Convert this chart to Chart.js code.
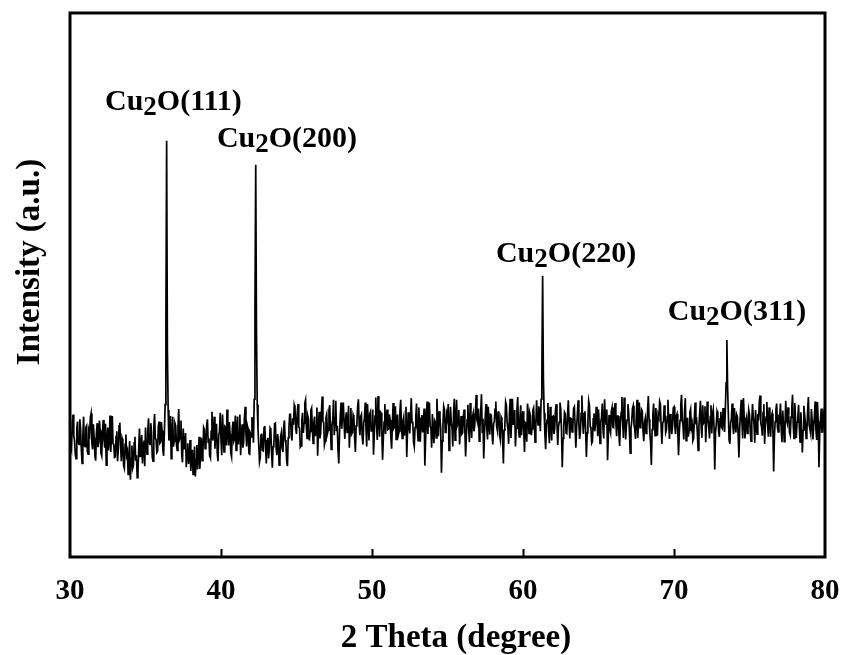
<!DOCTYPE html>
<html>
<head>
<meta charset="utf-8">
<script src="https://cdn.jsdelivr.net/npm/chart.js@4.4.0/dist/chart.umd.min.js"></script>
<style>
  body { margin: 0; background: #fff; }
  canvas { display: block; }
</style>
</head>
<body>
<canvas id="xrdChart" width="843" height="655"></canvas>
<script>
// XRD scan, 30-80 deg in 0.05 deg steps (one row per degree)
const startAngle = 30;
const angleStep = 0.05;
const intensity = [
  228, 201, 196, 247, 262, 223, 214, 189, 181, 236, 249, 210, 207, 253, 236, 198, 172, 221, 258, 205,
  203, 238, 241, 194, 189, 232, 226, 257, 264, 209, 198, 244, 219, 186, 177, 229, 246, 202, 211, 251,
  233, 191, 186, 228, 252, 217, 201, 245, 169, 212, 238, 196, 215, 260, 193, 224, 259, 208, 206, 183,
  184, 222, 231, 176, 199, 241, 247, 205, 176, 218, 212, 168, 163, 207, 225, 188, 194, 152, 178, 213,
  142, 181, 205, 163, 168, 210, 221, 177, 187, 146, 154, 198, 236, 185, 199, 224, 172, 209, 214, 167,
  238, 202, 189, 231, 255, 211, 207, 246, 228, 183, 176, 237, 263, 219, 215, 192, 194, 240, 249, 209,
  211, 248, 232, 197, 186, 229, 280, 420, 765, 380, 270, 214, 226, 259, 181, 224, 258, 203, 213, 246,
  241, 207, 196, 238, 272, 216, 220, 251, 188, 174, 236, 199, 203, 228, 165, 194, 209, 171, 182, 215,
  158, 186, 197, 152, 174, 203, 148, 179, 206, 161, 183, 221, 162, 196, 219, 177, 191, 238, 234, 199,
  207, 242, 253, 211, 218, 186, 182, 231, 267, 214, 226, 258, 199, 233, 245, 192, 176, 224, 231, 265,
  214, 187, 262, 224, 193, 240, 238, 205, 271, 229, 205, 248, 226, 191, 184, 236, 249, 213, 217, 260,
  196, 233, 258, 207, 229, 262, 187, 223, 244, 201, 211, 254, 276, 228, 203, 241, 235, 190, 189, 226,
  221, 257, 248, 210, 290, 460, 721, 410, 280, 236, 206, 175, 183, 224, 227, 196, 195, 238, 241, 203,
  172, 214, 219, 181, 198, 237, 234, 192, 164, 203, 207, 245, 246, 201, 187, 226, 213, 169, 178, 222,
  229, 201, 193, 238, 251, 215, 208, 176, 167, 219, 238, 262, 262, 224, 214, 255, 243, 279, 273, 236,
  226, 264, 281, 239, 237, 202, 204, 251, 265, 228, 246, 283, 289, 241, 218, 259, 253, 214, 231, 270,
  274, 236, 209, 247, 258, 222, 241, 275, 186, 232, 267, 218, 228, 264, 295, 249, 247, 206, 213, 256,
  262, 227, 233, 270, 279, 238, 198, 242, 251, 289, 224, 256, 287, 231, 241, 197, 172, 228, 259, 284,
  236, 263, 284, 247, 217, 252, 266, 229, 243, 278, 201, 239, 274, 226, 229, 261, 256, 219, 193, 241,
  248, 277, 290, 243, 224, 258, 262, 221, 207, 246, 255, 284, 238, 203, 281, 252, 214, 263, 267, 232,
  232, 271, 188, 226, 259, 293, 243, 215, 296, 254, 221, 267, 265, 230, 179, 218, 248, 281, 226, 259,
  271, 234, 235, 262, 252, 219, 199, 246, 283, 237, 240, 277, 216, 251, 262, 225, 231, 268, 289, 244,
  218, 249, 257, 223, 241, 276, 184, 229, 266, 240, 227, 259, 292, 247, 249, 211, 203, 238, 258, 282,
  239, 214, 275, 243, 212, 255, 261, 229, 244, 273, 168, 217, 253, 286, 226, 263, 284, 240, 237, 201,
  263, 232, 209, 251, 248, 219, 291, 254, 222, 268, 257, 236, 155, 213, 243, 277, 271, 229, 230, 262,
  254, 281, 196, 238, 276, 247, 238, 203, 263, 291, 215, 249, 289, 242, 247, 270, 207, 234, 259, 226,
  228, 259, 271, 233, 185, 224, 252, 280, 236, 211, 283, 248, 219, 257, 264, 231, 241, 267, 298, 252,
  246, 273, 213, 238, 267, 299, 229, 254, 181, 226, 258, 281, 240, 216, 276, 243, 225, 262, 261, 227,
  207, 245, 249, 272, 286, 241, 233, 266, 268, 223, 215, 257, 253, 218, 172, 233, 244, 285, 279, 246,
  236, 208, 262, 291, 219, 252, 291, 244, 248, 270, 203, 237, 271, 294, 238, 221, 257, 279, 224, 255,
  268, 231, 193, 247, 245, 212, 282, 259, 227, 265, 259, 224, 236, 270, 274, 248, 211, 239, 288, 256,
  243, 277, 265, 231, 290, 340, 517, 330, 265, 226, 198, 241, 252, 283, 231, 209, 276, 249, 214, 258,
  259, 226, 237, 270, 281, 245, 206, 239, 248, 284, 272, 233, 165, 218, 241, 266, 263, 228, 227, 259,
  288, 249, 218, 255, 254, 230, 239, 273, 276, 241, 201, 236, 262, 288, 245, 217, 230, 264, 297, 251,
  226, 263, 268, 232, 184, 228, 251, 287, 279, 240, 236, 209, 212, 254, 264, 231, 243, 276, 258, 222,
  271, 242, 209, 248, 256, 282, 233, 218, 290, 259, 244, 271, 178, 223, 261, 236, 229, 268, 275, 239,
  238, 270, 283, 247, 222, 259, 259, 226, 204, 245, 266, 294, 247, 219, 293, 258, 216, 242, 252, 281,
  264, 229, 191, 236, 249, 273, 278, 244, 235, 217, 257, 289, 219, 252, 284, 238, 242, 271, 268, 231,
  213, 248, 255, 227, 237, 269, 296, 253, 228, 211, 169, 234, 261, 282, 246, 223, 274, 241, 223, 262,
  257, 286, 281, 238, 208, 246, 249, 279, 266, 229, 234, 258, 289, 247, 217, 263, 253, 226, 240, 274,
  276, 243, 226, 259, 263, 231, 187, 229, 251, 280, 298, 254, 239, 216, 268, 292, 214, 247, 256, 221,
  233, 266, 272, 238, 245, 214, 218, 257, 284, 249, 252, 226, 196, 239, 264, 287, 237, 219, 279, 246,
  249, 277, 211, 243, 286, 255, 240, 218, 258, 279, 227, 263, 271, 237, 161, 229, 244, 268, 263, 232,
  221, 254, 267, 238, 236, 274, 252, 230, 270, 320, 399, 310, 262, 215, 208, 247, 253, 282, 241, 226,
  274, 245, 229, 262, 258, 223, 183, 236, 265, 289, 247, 218, 292, 256, 218, 249, 256, 227, 235, 270,
  262, 231, 213, 248, 281, 257, 244, 210, 270, 239, 226, 263, 251, 285, 297, 246, 239, 223, 266, 281,
  208, 243, 257, 285, 243, 221, 275, 248, 221, 259, 264, 236, 157, 222, 249, 271, 282, 238, 230, 262,
  255, 282, 236, 211, 269, 244, 212, 238, 287, 252, 246, 275, 260, 229, 224, 257, 273, 298, 241, 218,
  283, 254, 219, 248, 254, 280, 238, 211, 266, 241, 192, 233, 278, 262, 247, 218, 230, 269, 294, 243,
  243, 227, 272, 251, 216, 238, 259, 286, 234, 215, 285, 249, 165, 226, 251, 273, 228, 255, 263, 229,
  247
];

const xTicks = [30, 40, 50, 60, 70, 80];

// peak labels: [formula before subscript, subscript, rest]
const peakNames = [
  ['Cu', '2', 'O(111)'],
  ['Cu', '2', 'O(200)'],
  ['Cu', '2', 'O(220)'],
  ['Cu', '2', 'O(311)']
];
const peakLabelAngle = [36.85, 44.37, 62.85, 74.17];
const peakLabelLevel = [822, 754, 542, 436];

const xTitle = '2 Theta (degree)';
const yTitle = 'Intensity (a.u.)';

const serif = '"Liberation Serif", "Times New Roman", serif';

const points = intensity.map((v, i) => ({
  x: +(startAngle + i * angleStep).toFixed(2),
  y: v
}));

const framePlugin = {
  id: 'frame',
  afterDraw(chart) {
    const ctx = chart.ctx;
    const a = chart.chartArea;
    const xs = chart.scales.x;
    const ys = chart.scales.y;
    ctx.save();
    ctx.strokeStyle = '#000';
    // inner ticks on the bottom axis
    ctx.lineWidth = 2;
    xTicks.slice(1, -1).forEach(t => {
      const px = Math.round(xs.getPixelForValue(t)) + 0.5;
      ctx.beginPath();
      ctx.moveTo(px, a.bottom);
      ctx.lineTo(px, a.bottom - 8);
      ctx.stroke();
    });
    // box
    ctx.lineWidth = 3;
    ctx.strokeRect(a.left, a.top, a.right - a.left, a.bottom - a.top);

    // axis titles
    ctx.fillStyle = '#000';
    ctx.font = 'bold 33px ' + serif;
    ctx.textAlign = 'center';
    ctx.textBaseline = 'alphabetic';
    ctx.fillText(xTitle, 456, 647);
    ctx.translate(39, 262);
    ctx.rotate(-Math.PI / 2);
    ctx.fillText(yTitle, 0, 0);
    ctx.restore();

    // peak labels
    ctx.save();
    ctx.fillStyle = '#000';
    ctx.textBaseline = 'alphabetic';
    ctx.textAlign = 'left';
    peakNames.forEach((parts, i) => {
      const big = 'bold 30px ' + serif;
      const small = 'bold 27px ' + serif;
      ctx.font = big;
      const w1 = ctx.measureText(parts[0]).width;
      const w3 = ctx.measureText(parts[2]).width;
      ctx.font = small;
      const w2 = ctx.measureText(parts[1]).width;
      const cx = xs.getPixelForValue(peakLabelAngle[i]);
      const by = ys.getPixelForValue(peakLabelLevel[i]);
      let x = cx - (w1 + w2 + w3) / 2;
      ctx.font = big;
      ctx.fillText(parts[0], x, by);
      x += w1;
      ctx.font = small;
      ctx.fillText(parts[1], x, by + 5);
      x += w2;
      ctx.font = big;
      ctx.fillText(parts[2], x, by);
    });
    ctx.restore();
  }
};

new Chart(document.getElementById('xrdChart'), {
  type: 'line',
  data: {
    datasets: [{
      data: points,
      borderColor: '#000',
      borderWidth: 1.7,
      pointRadius: 0,
      tension: 0,
      fill: false
    }]
  },
  options: {
    responsive: false,
    animation: false,
    devicePixelRatio: 1,
    layout: { padding: { top: 13, right: 18, left: 0, bottom: 0 } },
    plugins: {
      legend: { display: false },
      tooltip: { enabled: false }
    },
    scales: {
      x: {
        type: 'linear',
        min: 30,
        max: 80,
        afterBuildTicks: s => { s.ticks = xTicks.map(v => ({ value: v })); },
        afterFit: s => {
          s.height = 98;
          s.paddingLeft = 0;
          s.paddingRight = 0;
        },
        grid: { display: false, drawTicks: false },
        border: { display: false },
        ticks: {
          color: '#000',
          padding: 17,
          maxRotation: 0,
          font: { family: serif, size: 29, weight: 'bold' }
        }
      },
      y: {
        min: 0,
        max: 1000,
        afterFit: s => { s.width = 70; },
        grid: { display: false, drawTicks: false },
        border: { display: false },
        ticks: { display: false }
      }
    }
  },
  plugins: [framePlugin]
});
</script>
</body>
</html>
